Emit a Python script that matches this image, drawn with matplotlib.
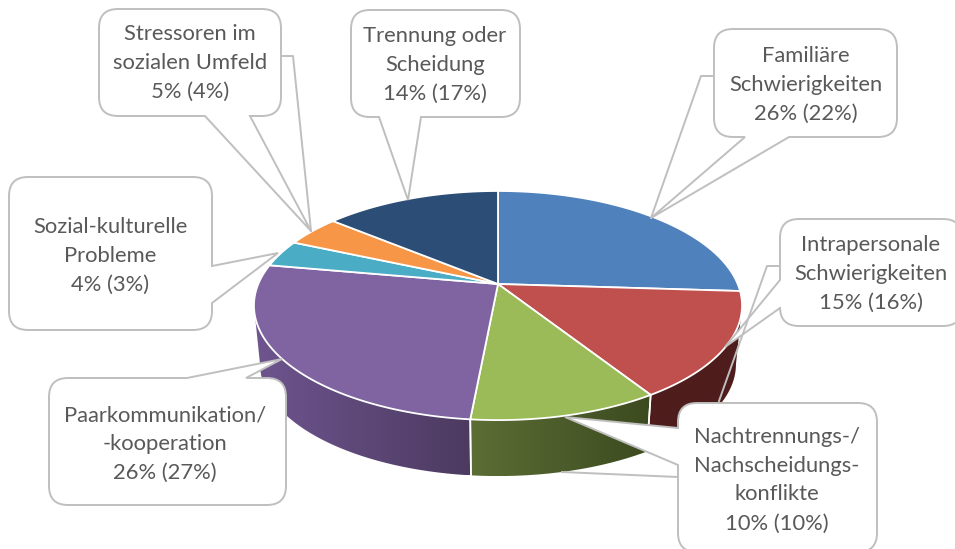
from __future__ import annotations

import matplotlib

matplotlib.use("Agg")
import matplotlib.pyplot as plt
import numpy as np
from matplotlib.colors import to_rgb
from matplotlib.patches import PathPatch
from matplotlib.path import Path

# share of each slice, clockwise from 12 o'clock
LABELS = [
    "Familiäre\nSchwierigkeiten\n26% (22%)",
    "Intrapersonale\nSchwierigkeiten\n15% (16%)",
    "Nachtrennungs-/\nNachscheidungs-\nkonflikte\n10% (10%)",
    "Paarkommunikation/\n-kooperation\n26% (27%)",
    "Sozial-kulturelle\nProbleme\n4% (3%)",
    "Stressoren im\nsozialen Umfeld\n5% (4%)",
    "Trennung oder\nScheidung\n14% (17%)",
]
SHARES = [26.0, 15.0, 10.5, 26.3, 3.8, 4.4, 14.0]
COLORS = ["#4f81bd", "#c0504d", "#9bbb59", "#8064a2", "#4bacc6", "#f79646", "#2c4d75"]
# wall shading, left end and right end of the visible front
WALL_COLORS = [
    ("#3a5f8c", "#2c4a6e"),
    ("#4e1d1c", "#4e1d1c"),
    ("#5c6e35", "#3c4a1f"),
    ("#6e558f", "#4c3a60"),
    ("#2f7a8e", "#2f7a8e"),
    ("#b56d30", "#b56d30"),
    ("#203a58", "#203a58"),
]

# x0, y0, x1, y1 of each callout box, in picture pixels
BOXES = [
    (714, 29, 897, 137),
    (780, 219, 962, 326),
    (678, 403, 877, 552),
    (49, 378, 286, 505),
    (9, 177, 212, 330),
    (99, 9, 281, 116),
    (351, 10, 520, 117),
]
# side of the box, the two points on that side in drawing order, tip of the pointer
TAILS = [
    ("bottom", 789, 745, (651, 218)),
    ("left", 308, 280, (725, 347)),
    ("left", 465, 428, (565, 417)),
    ("top", 187, 246, (282, 359)),
    ("right", 266, 303, (278, 253)),
    ("bottom", 250, 205, (311, 231)),
    ("bottom", 421, 379, (408, 200)),
]
LEADERS = [
    [(714, 76), (701, 76), (651, 218)],
    [(780, 266), (767, 266), (719, 401)],
    [(678, 477), (562, 472)],
    [],
    [],
    [(281, 56), (293, 56), (311, 231)],
    [],
]
TEXT_CENTERS = [806, 871, 777, 165, 110, 190, 435]
TEXT_MIDDLES = [85, 274, 480, 444, 256, 63, 65]

APEX_X, APEX_Y = 498.0, 284.0
RIM_A, RIM_B, TILT = 239.7, 110.5, 0.188
WALL_DROP, WALL_SCALE = 59.4, 0.975

GREY = "#bfbfbf"
TEXT_COLOR = "#595959"


def rim(theta: np.ndarray, lower: bool = False):
    # perspective view of the round top, theta clockwise from the far side
    u, v = np.sin(theta), np.cos(theta)
    w = 1 + TILT * v
    x, y = RIM_A * u / w, -RIM_B * v / w
    if lower:
        return APEX_X + WALL_SCALE * x, APEX_Y + WALL_DROP + WALL_SCALE * y
    return APEX_X + x, APEX_Y + y


def draw_walls(ax, edges: np.ndarray) -> None:
    # only the front of the rim shows, between the two silhouette points
    side = np.arccos(-TILT)
    front = (side, 2 * np.pi - side)
    for start, end, (left, right) in zip(edges[:-1], edges[1:], WALL_COLORS):
        first, last = max(start, front[0]), min(end, front[1])
        if first >= last:
            continue
        theta = np.linspace(first, last, 120)
        x_top, y_top = rim(theta)
        x_low, y_low = rim(theta, lower=True)
        outline = np.c_[np.r_[x_top, x_low[::-1]], np.r_[y_top, y_low[::-1]]]
        ramp = np.linspace(0, 1, 256)[:, None]
        gradient = (np.array(to_rgb(left))[None, :] * (1 - ramp) + np.array(to_rgb(right))[None, :] * ramp)[None, :, :]
        image = ax.imshow(
            gradient, extent=(outline[:, 0].min(), outline[:, 0].max(), outline[:, 1].max(), outline[:, 1].min()),
            aspect="auto", zorder=1, interpolation="bilinear",
        )
        image.set_clip_path(PathPatch(Path(outline, closed=False), transform=ax.transData))
        for angle in (start, end):
            if first <= angle <= last and angle not in front:
                xa, ya = rim(np.array([angle]))
                xb, yb = rim(np.array([angle]), lower=True)
                ax.plot([xa[0], xb[0]], [ya[0], yb[0]], color="white", lw=1.2, zorder=2)


def draw_top(ax, edges: np.ndarray) -> None:
    for start, end, color in zip(edges[:-1], edges[1:], COLORS):
        theta = np.linspace(start, end, 120)
        x, y = rim(theta)
        ax.fill(
            np.r_[APEX_X, x], np.r_[APEX_Y, y],
            facecolor=color, edgecolor="white", lw=1.3, joinstyle="round", zorder=3,
        )


def callout_path(box, tail) -> Path:
    x0, y0, x1, y1 = box
    r = 19
    side, p1, p2, tip = tail
    inserts = {"top": [], "right": [], "bottom": [], "left": []}
    if side in ("top", "bottom"):
        level = y0 if side == "top" else y1
        inserts[side] = [(p1, level), tip, (p2, level)]
    else:
        level = x0 if side == "left" else x1
        inserts[side] = [(level, p1), tip, (level, p2)]

    verts = [(x0 + r, y0)]
    codes = [Path.MOVETO]

    def line(points):
        for point in points:
            verts.append(point)
            codes.append(Path.LINETO)

    def corner(ctrl, end):
        verts.extend([ctrl, end])
        codes.extend([Path.CURVE3, Path.CURVE3])

    line(inserts["top"] + [(x1 - r, y0)])
    corner((x1, y0), (x1, y0 + r))
    line(inserts["right"] + [(x1, y1 - r)])
    corner((x1, y1), (x1 - r, y1))
    line(inserts["bottom"] + [(x0 + r, y1)])
    corner((x0, y1), (x0, y1 - r))
    line(inserts["left"] + [(x0, y0 + r)])
    corner((x0, y0), (x0 + r, y0))
    verts.append((x0 + r, y0))
    codes.append(Path.CLOSEPOLY)
    return Path(verts, codes)


def main() -> None:
    fig = plt.figure(figsize=(9.55, 5.49), dpi=100)
    ax = fig.add_axes([0, 0, 1, 1])
    ax.axis("off")

    edges = np.deg2rad(np.r_[0, np.cumsum(SHARES)] / sum(SHARES) * 360)
    draw_walls(ax, edges)
    draw_top(ax, edges)

    for i, label in enumerate(LABELS):
        z = 5 + i
        ax.add_patch(PathPatch(callout_path(BOXES[i], TAILS[i]), facecolor="white", edgecolor=GREY, lw=1.4, zorder=z))
        if LEADERS[i]:
            xs, ys = zip(*LEADERS[i])
            ax.plot(xs, ys, color=GREY, lw=1.4, zorder=z)
        ax.text(
            TEXT_CENTERS[i], TEXT_MIDDLES[i], label, ha="center", va="center", family="Lato",
            fontsize=15.8, color=TEXT_COLOR, linespacing=1.56, zorder=z + 0.5,
        )

    ax.set_xlim(0, 955)
    ax.set_ylim(549, 0)
    fig.savefig("out.png", dpi=100)
    plt.close(fig)


if __name__ == "__main__":
    main()
